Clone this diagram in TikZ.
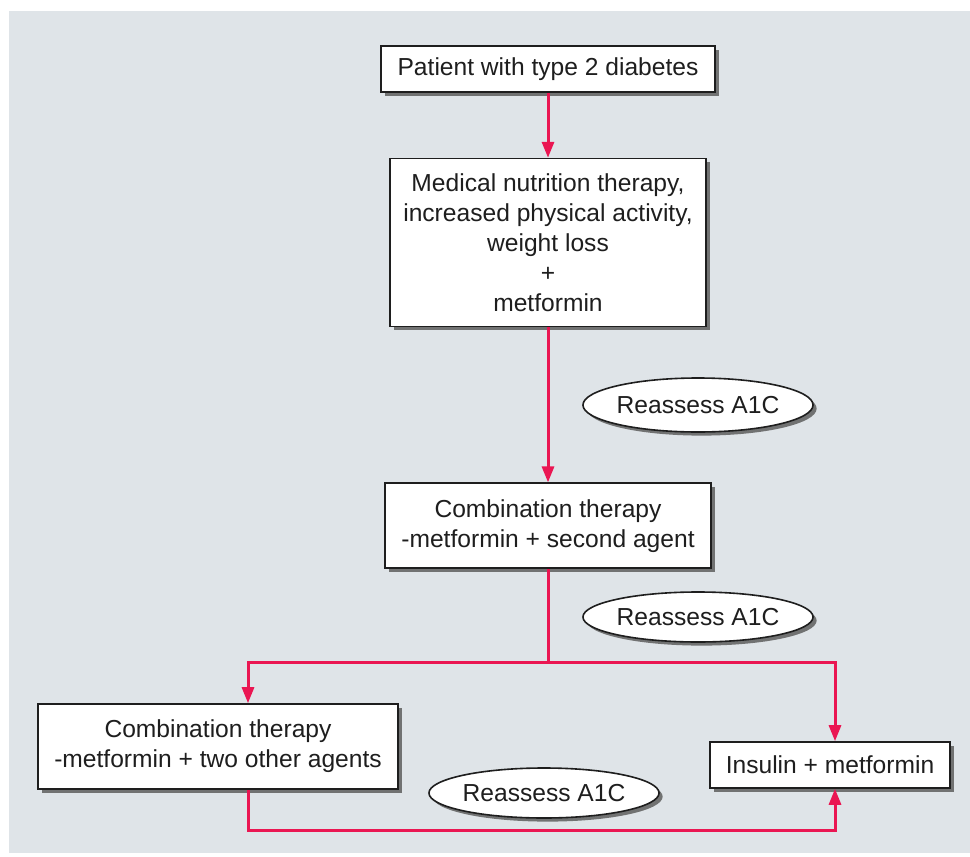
\documentclass[tikz,border=0pt]{standalone}
\usepackage{fontspec}
\setmainfont{Liberation Sans}
\usetikzlibrary{positioning,shapes.geometric,shadows,arrows.meta}
\definecolor{panel}{RGB}{223,228,232}
\definecolor{flowred}{RGB}{234,22,82}
\definecolor{ink}{RGB}{30,30,30}
\tikzset{flow box/.style={draw=ink,line width=0.8pt,fill=white,text=ink,align=center,inner sep=2pt,
    font=\fontsize{12.3}{15}\selectfont,
    drop shadow={shadow xshift=1.8pt,shadow yshift=-1.8pt,fill=black!60,opacity=0.9}},
  check oval/.style={flow box,ellipse,inner sep=0pt},
  flow line/.style={flowred,line width=1.5pt},
  flow arrow/.style={flow line,-{Triangle[length=8pt,width=6pt]}}}

\begin{document}
\begin{tikzpicture}[x=0.5pt,y=-0.5pt]
\useasboundingbox (0,0) rectangle (970,857);
\fill[panel] (9,11) rectangle (970,853);
\node[flow box,minimum width=167pt,minimum height=23pt] (pat) at (548,69) {Patient with type 2 diabetes};
\node[flow box,minimum width=158pt,minimum height=84pt] (mnt) [below=32.5pt of pat] {Medical nutrition therapy,\\increased physical activity,\\weight loss\\+\\metformin};
\node[flow box,minimum width=163pt,minimum height=42.5pt] (combo2) [below=77.5pt of mnt] {Combination therapy\\-metformin + second agent};
\node[flow box,minimum width=180pt,minimum height=42.5pt] (combo3) at (218,746.5) {Combination therapy\\-metformin + two other agents};
\node[flow box,minimum width=120pt,minimum height=23pt] (ins) at (830,765) {Insulin + metformin};
\node[check oval,minimum width=105pt,minimum height=27pt] (check1) at (698,405) {Reassess A1C};
\node[check oval,minimum width=106pt,minimum height=25pt] (check2) at (698,617) {Reassess A1C};
\node[check oval,minimum width=106pt,minimum height=25pt] (check3) at (544,793) {Reassess A1C};
\coordinate (fork) at (548,662);
\coordinate (turn) at (835,830);
\draw[flow arrow] (pat) -- (mnt);
\draw[flow arrow] (mnt) -- (combo2);
\draw[flow line] (combo2) -- (fork);
\draw[flow arrow] (fork) -| ([xshift=15pt]combo3.north);
\draw[flow arrow] (fork) -| ([xshift=2.5pt]ins.north);
\draw[flow arrow] ([xshift=15pt]combo3.south) |- (turn) -- ([xshift=2.5pt]ins.south);
\end{tikzpicture}
\end{document}
